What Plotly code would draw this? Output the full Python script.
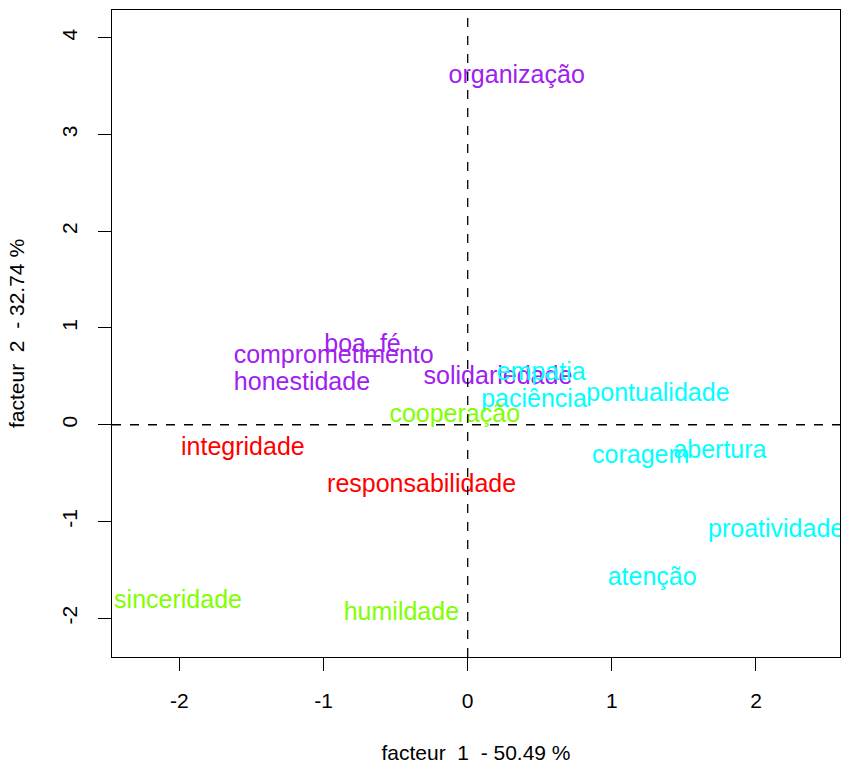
import plotly.graph_objects as go

labels = ["organização", "boa_fé", "comprometimento", "honestidade", "solidariedade",
          "empatia", "paciência", "pontualidade", "coragem", "abertura",
          "proatividade", "atenção", "cooperação", "sinceridade", "humildade",
          "integridade", "responsabilidade"]
factor1 = [0.34, -0.73, -0.93, -1.15, 0.21,
           0.51, 0.46, 1.32, 1.20, 1.75,
           2.14, 1.28, -0.09, -2.01, -0.46,
           -1.56, -0.32]
factor2 = [3.60, 0.82, 0.70, 0.42, 0.49,
           0.53, 0.25, 0.31, -0.33, -0.28,
           -1.10, -1.59, 0.09, -1.83, -1.95,
           -0.25, -0.63]
cluster = [1, 1, 1, 1, 1,
           2, 2, 2, 2, 2,
           2, 2, 3, 3, 3,
           4, 4]
cluster_colors = {1: "#A020F0", 2: "#00FFFF", 3: "#7FFF00", 4: "#FF0000"}

x_ticks = [-2, -1, 0, 1, 2]
y_ticks = [-2, -1, 0, 1, 2, 3, 4]
x_title = "facteur  1  - 50.49 %"
y_title = "facteur  2  - 32.74 %"

FONT = "Liberation Sans, Arial"

fig = go.Figure()
fig.add_trace(go.Scatter(
    x=factor1, y=factor2, text=labels, mode="text",
    textposition="middle center",
    textfont=dict(family=FONT, size=25,
                  color=[cluster_colors[c] for c in cluster]),
    cliponaxis=True, hoverinfo="text", showlegend=False,
))

fig.add_shape(type="line", xref="x", yref="paper", x0=0, x1=0, y0=0, y1=1,
              line=dict(color="black", width=1.3, dash="dash"))
fig.add_shape(type="line", xref="paper", yref="y", x0=0, x1=1, y0=0, y1=0,
              line=dict(color="black", width=1.3, dash="dash"))

axis_common = dict(showgrid=False, zeroline=False, showline=True, mirror=True,
                   linecolor="black", linewidth=1.3, ticks="outside", ticklen=13,
                   tickcolor="black", tickwidth=1.3, ticklabelstandoff=12,
                   automargin=False,
                   tickfont=dict(family=FONT, size=21, color="black"))

fig.update_xaxes(range=[-2.468, 2.583], tickvals=x_ticks, ticktext=[str(v) for v in x_ticks],
                 title=dict(text=x_title, font=dict(family=FONT, size=21, color="black"),
                            standoff=34),
                 **axis_common)
fig.update_yaxes(range=[-2.40, 4.286], tickvals=y_ticks, ticktext=[str(v) for v in y_ticks],
                 tickangle=-90,
                 title=dict(text=y_title, font=dict(family=FONT, size=21, color="black"),
                            standoff=28),
                 **axis_common)

fig.update_layout(width=841, height=764, margin=dict(l=112, r=1, t=10, b=107),
                  plot_bgcolor="white", paper_bgcolor="white")

# remove the default 8px page margin so the figure fills the window exactly
fig.write_html("out.html",
               config={"displayModeBar": False},
               post_script="document.body.style.margin='0';document.body.style.overflow='hidden';")
